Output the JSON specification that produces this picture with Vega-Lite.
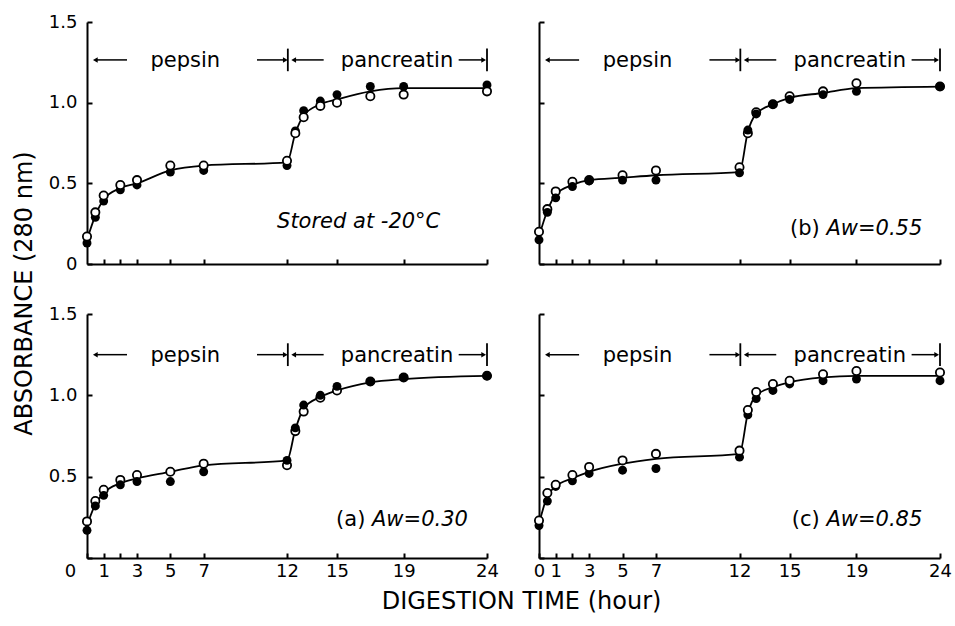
{
  "$schema": "https://vega.github.io/schema/vega-lite/v6.json",
  "padding": {"left": 12, "top": 13, "right": 5, "bottom": 5},
  "background": "white",
  "datasets": {
    "obs": [
      {"panel": "s", "t": 0, "open": 0.17, "filled": 0.13, "fit": 0.15},
      {"panel": "s", "t": 0.5, "open": 0.32, "filled": 0.29, "fit": 0.30},
      {"panel": "s", "t": 1, "open": 0.425, "filled": 0.39, "fit": 0.40},
      {"panel": "s", "t": 2, "open": 0.49, "filled": 0.46, "fit": 0.47},
      {"panel": "s", "t": 3, "open": 0.52, "filled": 0.49, "fit": 0.50},
      {"panel": "s", "t": 5, "open": 0.61, "filled": 0.57, "fit": 0.58},
      {"panel": "s", "t": 7, "open": 0.61, "filled": 0.58, "fit": 0.61},
      {"panel": "s", "t": 12, "open": 0.64, "filled": 0.61, "fit": 0.63},
      {"panel": "s", "t": 12.5, "open": 0.81, "filled": 0.825, "fit": 0.81},
      {"panel": "s", "t": 13, "open": 0.91, "filled": 0.95, "fit": 0.92},
      {"panel": "s", "t": 14, "open": 0.98, "filled": 1.01, "fit": 0.99},
      {"panel": "s", "t": 15, "open": 1.0, "filled": 1.05, "fit": 1.02},
      {"panel": "s", "t": 17, "open": 1.04, "filled": 1.10, "fit": 1.07},
      {"panel": "s", "t": 19, "open": 1.05, "filled": 1.10, "fit": 1.09},
      {"panel": "s", "t": 24, "open": 1.07, "filled": 1.11, "fit": 1.09},
      {"panel": "b", "t": 0, "open": 0.20, "filled": 0.15, "fit": 0.17},
      {"panel": "b", "t": 0.5, "open": 0.34, "filled": 0.32, "fit": 0.33},
      {"panel": "b", "t": 1, "open": 0.45, "filled": 0.41, "fit": 0.43},
      {"panel": "b", "t": 2, "open": 0.51, "filled": 0.48, "fit": 0.49},
      {"panel": "b", "t": 3, "open": 0.52, "filled": 0.515, "fit": 0.52},
      {"panel": "b", "t": 5, "open": 0.55, "filled": 0.52, "fit": 0.535},
      {"panel": "b", "t": 7, "open": 0.58, "filled": 0.52, "fit": 0.55},
      {"panel": "b", "t": 12, "open": 0.60, "filled": 0.565, "fit": 0.57},
      {"panel": "b", "t": 12.5, "open": 0.81, "filled": 0.83, "fit": 0.82},
      {"panel": "b", "t": 13, "open": 0.94, "filled": 0.93, "fit": 0.93},
      {"panel": "b", "t": 14, "open": 0.99, "filled": 0.99, "fit": 0.99},
      {"panel": "b", "t": 15, "open": 1.04, "filled": 1.02, "fit": 1.03},
      {"panel": "b", "t": 17, "open": 1.07, "filled": 1.05, "fit": 1.06},
      {"panel": "b", "t": 19, "open": 1.12, "filled": 1.07, "fit": 1.09},
      {"panel": "b", "t": 24, "open": 1.10, "filled": 1.10, "fit": 1.10},
      {"panel": "a", "t": 0, "open": 0.225, "filled": 0.17, "fit": 0.20},
      {"panel": "a", "t": 0.5, "open": 0.35, "filled": 0.32, "fit": 0.33},
      {"panel": "a", "t": 1, "open": 0.42, "filled": 0.385, "fit": 0.40},
      {"panel": "a", "t": 2, "open": 0.48, "filled": 0.45, "fit": 0.46},
      {"panel": "a", "t": 3, "open": 0.51, "filled": 0.47, "fit": 0.49},
      {"panel": "a", "t": 5, "open": 0.53, "filled": 0.47, "fit": 0.53},
      {"panel": "a", "t": 7, "open": 0.58, "filled": 0.53, "fit": 0.57},
      {"panel": "a", "t": 12, "open": 0.57, "filled": 0.60, "fit": 0.60},
      {"panel": "a", "t": 12.5, "open": 0.78, "filled": 0.80, "fit": 0.79},
      {"panel": "a", "t": 13, "open": 0.90, "filled": 0.94, "fit": 0.92},
      {"panel": "a", "t": 14, "open": 0.985, "filled": 1.0, "fit": 0.99},
      {"panel": "a", "t": 15, "open": 1.03, "filled": 1.055, "fit": 1.03},
      {"panel": "a", "t": 17, "open": 1.085, "filled": 1.085, "fit": 1.08},
      {"panel": "a", "t": 19, "open": 1.11, "filled": 1.11, "fit": 1.10},
      {"panel": "a", "t": 24, "open": 1.12, "filled": 1.12, "fit": 1.12},
      {"panel": "c", "t": 0, "open": 0.23, "filled": 0.20, "fit": 0.21},
      {"panel": "c", "t": 0.5, "open": 0.40, "filled": 0.35, "fit": 0.38},
      {"panel": "c", "t": 1, "open": 0.45, "filled": 0.44, "fit": 0.44},
      {"panel": "c", "t": 2, "open": 0.51, "filled": 0.475, "fit": 0.49},
      {"panel": "c", "t": 3, "open": 0.56, "filled": 0.52, "fit": 0.53},
      {"panel": "c", "t": 5, "open": 0.60, "filled": 0.54, "fit": 0.58},
      {"panel": "c", "t": 7, "open": 0.64, "filled": 0.55, "fit": 0.61},
      {"panel": "c", "t": 12, "open": 0.66, "filled": 0.62, "fit": 0.64},
      {"panel": "c", "t": 12.5, "open": 0.91, "filled": 0.88, "fit": 0.89},
      {"panel": "c", "t": 13, "open": 1.02, "filled": 0.98, "fit": 1.0},
      {"panel": "c", "t": 14, "open": 1.07, "filled": 1.03, "fit": 1.05},
      {"panel": "c", "t": 15, "open": 1.09, "filled": 1.07, "fit": 1.08},
      {"panel": "c", "t": 17, "open": 1.13, "filled": 1.09, "fit": 1.11},
      {"panel": "c", "t": 19, "open": 1.15, "filled": 1.10, "fit": 1.12},
      {"panel": "c", "t": 24, "open": 1.14, "filled": 1.09, "fit": 1.12}
    ],
    "shafts": [
      {"from": 0.5, "to": 2.4},
      {"from": 10.2, "to": 11.9},
      {"from": 12.4, "to": 14.2},
      {"from": 22.3, "to": 23.8}
    ],
    "heads": [
      {"t": 0.5, "dir": "left"},
      {"t": 11.9, "dir": "right"},
      {"t": 12.4, "dir": "left"},
      {"t": 23.8, "dir": "right"}
    ],
    "bars": [{"t": 12.05}, {"t": 24}],
    "phases": [{"t": 5.9, "name": "pepsin"}, {"t": 18.6, "name": "pancreatin"}],
    "labels": [
      {"panel": "s", "pre": "", "main": "Stored at -20°C"},
      {"panel": "b", "pre": "(b)", "main": "Aw=0.55"},
      {"panel": "a", "pre": "(a)", "main": "Aw=0.30"},
      {"panel": "c", "pre": "(c)", "main": "Aw=0.85"}
    ]
  },
  "columns": 2,
  "spacing": {"row": 50, "column": 52},
  "bounds": "flush",
  "concat": [
    {
      "width": 400, "height": 242,
      "layer": [
        {"data": {"name": "obs"}, "transform": [{"filter": "datum.panel === 's'"}],
         "mark": {"type": "line", "interpolate": "monotone", "color": "black", "strokeWidth": 1.8},
         "encoding": {
           "x": {"field": "t", "type": "quantitative", "scale": {"domain": [0, 24], "nice": false},
                 "axis": {"values": [1, 2, 3, 5, 7, 12, 15, 19, 24], "labels": false, "title": null}},
           "y": {"field": "fit", "type": "quantitative", "scale": {"domain": [0, 1.5], "nice": false},
                 "axis": {"values": [0, 0.5, 1, 1.5], "labelExpr": "datum.value === 0 ? '0' : format(datum.value, '.1f')", "labelPadding": 15,
                          "title": "ABSORBANCE (280 nm)", "titleX": -63, "titleY": 271, "titleBaseline": "middle", "titleFontSize": 24}}}},
        {"data": {"name": "obs"}, "transform": [{"filter": "datum.panel === 's'"}],
         "mark": {"type": "point", "shape": "circle", "filled": true, "color": "black", "size": 80, "opacity": 1},
         "encoding": {"x": {"field": "t", "type": "quantitative"}, "y": {"field": "filled", "type": "quantitative"}}},
        {"data": {"name": "obs"}, "transform": [{"filter": "datum.panel === 's'"}],
         "mark": {"type": "point", "shape": "circle", "filled": true, "fill": "white", "stroke": "black", "strokeWidth": 1.8, "size": 68, "opacity": 1},
         "encoding": {"x": {"field": "t", "type": "quantitative"}, "y": {"field": "open", "type": "quantitative"}}},
        {"data": {"name": "shafts"}, "mark": {"type": "rule", "color": "black", "strokeWidth": 1.5},
         "encoding": {"x": {"field": "from", "type": "quantitative"}, "x2": {"field": "to"}, "y": {"datum": 1.265}}},
        {"data": {"name": "heads"}, "mark": {"type": "point", "filled": true, "color": "black", "size": 30, "opacity": 1},
         "encoding": {"x": {"field": "t", "type": "quantitative"}, "y": {"datum": 1.265},
                      "shape": {"field": "dir", "type": "nominal", "scale": {"domain": ["left", "right"], "range": ["triangle-left", "triangle-right"]}, "legend": null}}},
        {"data": {"name": "bars"}, "mark": {"type": "rule", "color": "black", "strokeWidth": 1.8},
         "encoding": {"x": {"field": "t", "type": "quantitative"}, "y": {"datum": 1.195}, "y2": {"datum": 1.335}}},
        {"data": {"name": "phases"}, "mark": {"type": "text", "fontSize": 21, "baseline": "alphabetic", "dy": 7, "color": "black"},
         "encoding": {"x": {"field": "t", "type": "quantitative"}, "y": {"datum": 1.265}, "text": {"field": "name"}}},
        {"data": {"name": "labels"}, "transform": [{"filter": "datum.panel === 's'"}],
         "mark": {"type": "text", "fontSize": 21, "fontStyle": "italic", "align": "center", "baseline": "middle", "color": "black"},
         "encoding": {"x": {"datum": 16.3}, "y": {"datum": 0.26}, "text": {"field": "main"}}}
      ]
    },
    {
      "width": 401, "height": 242,
      "layer": [
        {"data": {"name": "obs"}, "transform": [{"filter": "datum.panel === 'b'"}],
         "mark": {"type": "line", "interpolate": "monotone", "color": "black", "strokeWidth": 1.8},
         "encoding": {
           "x": {"field": "t", "type": "quantitative", "scale": {"domain": [0, 24], "nice": false},
                 "axis": {"values": [1, 2, 3, 5, 7, 12, 15, 19, 24], "labels": false, "title": null}},
           "y": {"field": "fit", "type": "quantitative", "scale": {"domain": [0, 1.5], "nice": false},
                 "axis": {"values": [0, 0.5, 1, 1.5], "labels": false, "title": null}}}},
        {"data": {"name": "obs"}, "transform": [{"filter": "datum.panel === 'b'"}],
         "mark": {"type": "point", "shape": "circle", "filled": true, "fill": "white", "stroke": "black", "strokeWidth": 1.8, "size": 68, "opacity": 1},
         "encoding": {"x": {"field": "t", "type": "quantitative"}, "y": {"field": "open", "type": "quantitative"}}},
        {"data": {"name": "obs"}, "transform": [{"filter": "datum.panel === 'b'"}],
         "mark": {"type": "point", "shape": "circle", "filled": true, "color": "black", "size": 80, "opacity": 1},
         "encoding": {"x": {"field": "t", "type": "quantitative"}, "y": {"field": "filled", "type": "quantitative"}}},
        {"data": {"name": "shafts"}, "mark": {"type": "rule", "color": "black", "strokeWidth": 1.5},
         "encoding": {"x": {"field": "from", "type": "quantitative"}, "x2": {"field": "to"}, "y": {"datum": 1.265}}},
        {"data": {"name": "heads"}, "mark": {"type": "point", "filled": true, "color": "black", "size": 30, "opacity": 1},
         "encoding": {"x": {"field": "t", "type": "quantitative"}, "y": {"datum": 1.265},
                      "shape": {"field": "dir", "type": "nominal", "scale": {"domain": ["left", "right"], "range": ["triangle-left", "triangle-right"]}, "legend": null}}},
        {"data": {"name": "bars"}, "mark": {"type": "rule", "color": "black", "strokeWidth": 1.8},
         "encoding": {"x": {"field": "t", "type": "quantitative"}, "y": {"datum": 1.195}, "y2": {"datum": 1.335}}},
        {"data": {"name": "phases"}, "mark": {"type": "text", "fontSize": 21, "baseline": "alphabetic", "dy": 7, "color": "black"},
         "encoding": {"x": {"field": "t", "type": "quantitative"}, "y": {"datum": 1.265}, "text": {"field": "name"}}},
        {"data": {"name": "labels"}, "transform": [{"filter": "datum.panel === 'b'"}],
         "mark": {"type": "text", "fontSize": 21, "align": "right", "baseline": "middle", "color": "black"},
         "encoding": {"x": {"datum": 16.8}, "y": {"datum": 0.22}, "text": {"field": "pre"}}},
        {"data": {"name": "labels"}, "transform": [{"filter": "datum.panel === 'b'"}],
         "mark": {"type": "text", "fontSize": 21, "fontStyle": "italic", "align": "left", "baseline": "middle", "color": "black"},
         "encoding": {"x": {"datum": 17.2}, "y": {"datum": 0.22}, "text": {"field": "main"}}}
      ]
    },
    {
      "width": 400, "height": 244,
      "layer": [
        {"data": {"name": "obs"}, "transform": [{"filter": "datum.panel === 'a'"}],
         "mark": {"type": "line", "interpolate": "monotone", "color": "black", "strokeWidth": 1.8},
         "encoding": {
           "x": {"field": "t", "type": "quantitative", "scale": {"domain": [0, 24], "nice": false},
                 "axis": {"values": [0, 1, 2, 3, 5, 7, 12, 15, 19, 24], "labelExpr": "datum.value === 2 ? '' : datum.label",
                          "labelOffset": {"condition": {"test": "datum.value === 0", "value": -17}, "value": 0},
                          "title": "DIGESTION TIME (hour)", "titleX": 434, "titleY": 43, "titleBaseline": "middle", "titleFontSize": 24}},
           "y": {"field": "fit", "type": "quantitative", "scale": {"domain": [0, 1.5], "nice": false},
                 "axis": {"values": [0, 0.5, 1, 1.5], "labelExpr": "datum.value === 0 ? '' : format(datum.value, '.1f')", "labelPadding": 15, "title": null}}}},
        {"data": {"name": "obs"}, "transform": [{"filter": "datum.panel === 'a'"}],
         "mark": {"type": "point", "shape": "circle", "filled": true, "fill": "white", "stroke": "black", "strokeWidth": 1.8, "size": 68, "opacity": 1},
         "encoding": {"x": {"field": "t", "type": "quantitative"}, "y": {"field": "open", "type": "quantitative"}}},
        {"data": {"name": "obs"}, "transform": [{"filter": "datum.panel === 'a'"}],
         "mark": {"type": "point", "shape": "circle", "filled": true, "color": "black", "size": 80, "opacity": 1},
         "encoding": {"x": {"field": "t", "type": "quantitative"}, "y": {"field": "filled", "type": "quantitative"}}},
        {"data": {"name": "shafts"}, "mark": {"type": "rule", "color": "black", "strokeWidth": 1.5},
         "encoding": {"x": {"field": "from", "type": "quantitative"}, "x2": {"field": "to"}, "y": {"datum": 1.25}}},
        {"data": {"name": "heads"}, "mark": {"type": "point", "filled": true, "color": "black", "size": 30, "opacity": 1},
         "encoding": {"x": {"field": "t", "type": "quantitative"}, "y": {"datum": 1.25},
                      "shape": {"field": "dir", "type": "nominal", "scale": {"domain": ["left", "right"], "range": ["triangle-left", "triangle-right"]}, "legend": null}}},
        {"data": {"name": "bars"}, "mark": {"type": "rule", "color": "black", "strokeWidth": 1.8},
         "encoding": {"x": {"field": "t", "type": "quantitative"}, "y": {"datum": 1.18}, "y2": {"datum": 1.32}}},
        {"data": {"name": "phases"}, "mark": {"type": "text", "fontSize": 21, "baseline": "alphabetic", "dy": 7, "color": "black"},
         "encoding": {"x": {"field": "t", "type": "quantitative"}, "y": {"datum": 1.25}, "text": {"field": "name"}}},
        {"data": {"name": "labels"}, "transform": [{"filter": "datum.panel === 'a'"}],
         "mark": {"type": "text", "fontSize": 21, "align": "right", "baseline": "middle", "color": "black"},
         "encoding": {"x": {"datum": 16.7}, "y": {"datum": 0.235}, "text": {"field": "pre"}}},
        {"data": {"name": "labels"}, "transform": [{"filter": "datum.panel === 'a'"}],
         "mark": {"type": "text", "fontSize": 21, "fontStyle": "italic", "align": "left", "baseline": "middle", "color": "black"},
         "encoding": {"x": {"datum": 17.1}, "y": {"datum": 0.235}, "text": {"field": "main"}}}
      ]
    },
    {
      "width": 401, "height": 244,
      "layer": [
        {"data": {"name": "obs"}, "transform": [{"filter": "datum.panel === 'c'"}],
         "mark": {"type": "line", "interpolate": "monotone", "color": "black", "strokeWidth": 1.8},
         "encoding": {
           "x": {"field": "t", "type": "quantitative", "scale": {"domain": [0, 24], "nice": false},
                 "axis": {"values": [0, 1, 2, 3, 5, 7, 12, 15, 19, 24], "labelExpr": "datum.value === 2 ? '' : datum.label", "title": null}},
           "y": {"field": "fit", "type": "quantitative", "scale": {"domain": [0, 1.5], "nice": false},
                 "axis": {"values": [0, 0.5, 1, 1.5], "labels": false, "title": null}}}},
        {"data": {"name": "obs"}, "transform": [{"filter": "datum.panel === 'c'"}],
         "mark": {"type": "point", "shape": "circle", "filled": true, "color": "black", "size": 80, "opacity": 1},
         "encoding": {"x": {"field": "t", "type": "quantitative"}, "y": {"field": "filled", "type": "quantitative"}}},
        {"data": {"name": "obs"}, "transform": [{"filter": "datum.panel === 'c'"}],
         "mark": {"type": "point", "shape": "circle", "filled": true, "fill": "white", "stroke": "black", "strokeWidth": 1.8, "size": 68, "opacity": 1},
         "encoding": {"x": {"field": "t", "type": "quantitative"}, "y": {"field": "open", "type": "quantitative"}}},
        {"data": {"name": "shafts"}, "mark": {"type": "rule", "color": "black", "strokeWidth": 1.5},
         "encoding": {"x": {"field": "from", "type": "quantitative"}, "x2": {"field": "to"}, "y": {"datum": 1.25}}},
        {"data": {"name": "heads"}, "mark": {"type": "point", "filled": true, "color": "black", "size": 30, "opacity": 1},
         "encoding": {"x": {"field": "t", "type": "quantitative"}, "y": {"datum": 1.25},
                      "shape": {"field": "dir", "type": "nominal", "scale": {"domain": ["left", "right"], "range": ["triangle-left", "triangle-right"]}, "legend": null}}},
        {"data": {"name": "bars"}, "mark": {"type": "rule", "color": "black", "strokeWidth": 1.8},
         "encoding": {"x": {"field": "t", "type": "quantitative"}, "y": {"datum": 1.18}, "y2": {"datum": 1.32}}},
        {"data": {"name": "phases"}, "mark": {"type": "text", "fontSize": 21, "baseline": "alphabetic", "dy": 7, "color": "black"},
         "encoding": {"x": {"field": "t", "type": "quantitative"}, "y": {"datum": 1.25}, "text": {"field": "name"}}},
        {"data": {"name": "labels"}, "transform": [{"filter": "datum.panel === 'c'"}],
         "mark": {"type": "text", "fontSize": 21, "align": "right", "baseline": "middle", "color": "black"},
         "encoding": {"x": {"datum": 16.8}, "y": {"datum": 0.235}, "text": {"field": "pre"}}},
        {"data": {"name": "labels"}, "transform": [{"filter": "datum.panel === 'c'"}],
         "mark": {"type": "text", "fontSize": 21, "fontStyle": "italic", "align": "left", "baseline": "middle", "color": "black"},
         "encoding": {"x": {"datum": 17.2}, "y": {"datum": 0.235}, "text": {"field": "main"}}}
      ]
    }
  ],
  "config": {
    "view": {"stroke": null},
    "font": "DejaVu Sans",
    "axis": {
      "domainColor": "black", "domainWidth": 2, "tickColor": "black", "tickWidth": 2, "tickSize": -5,
      "labelFontSize": 18, "labelColor": "black", "labelFont": "DejaVu Sans", "grid": false,
      "labelFlush": false, "labelOverlap": false, "labelPadding": 9,
      "titleColor": "black", "titleFontWeight": "normal", "titleFont": "DejaVu Sans"
    },
    "text": {"color": "black", "font": "DejaVu Sans"}
  }
}
